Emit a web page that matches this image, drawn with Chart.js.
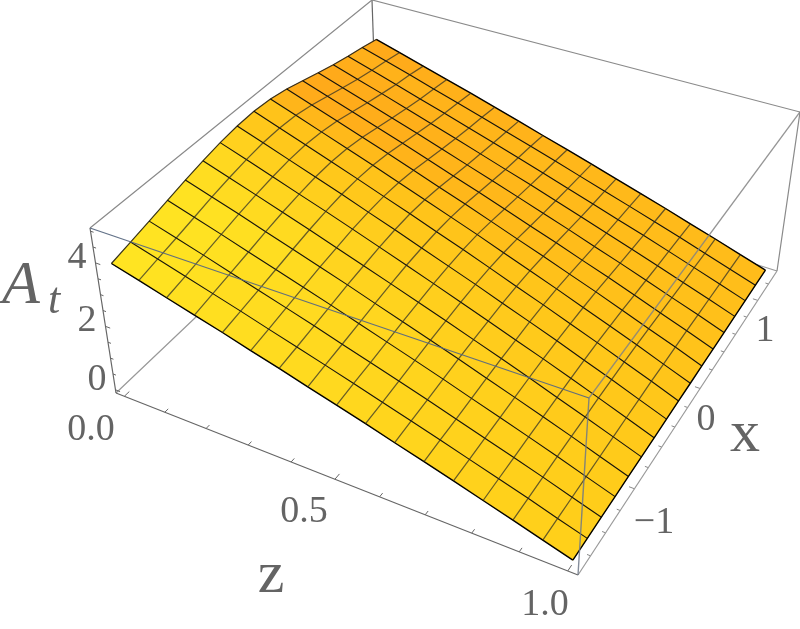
<!DOCTYPE html>
<html>
<head>
<meta charset="utf-8">
<style>html,body{margin:0;padding:0;background:#fff}canvas{display:block}</style>
<script src="https://cdn.jsdelivr.net/npm/chart.js@4"></script>
</head>
<body>
<canvas id="c" width="800" height="629"></canvas>
<script>
const zTicks = [0, 0.1, 0.2, 0.3, 0.4, 0.5, 0.6, 0.7, 0.8, 0.9, 1];
const xTicks = [-1.4, -1.2, -1, -0.8, -0.6, -0.4, -0.2, 0, 0.2, 0.4, 0.6, 0.8, 1, 1.2, 1.4];
const aTicks = [0, 0.5, 1, 1.5, 2, 2.5, 3, 3.5, 4, 4.5, 5];
// A_t: one row per z line, one column per x line
const heights = [
  [3.90, 4.05, 4.20, 4.36, 4.52, 4.66, 4.78, 4.86, 4.89, 4.85, 4.74, 4.58, 4.42, 4.27, 4.14, 4.03, 3.90],
  [3.66, 3.80, 3.94, 4.09, 4.24, 4.37, 4.48, 4.56, 4.58, 4.55, 4.44, 4.29, 4.14, 4.00, 3.88, 3.78, 3.66],
  [3.41, 3.54, 3.68, 3.82, 3.96, 4.08, 4.18, 4.25, 4.28, 4.24, 4.15, 4.01, 3.87, 3.74, 3.62, 3.53, 3.41],
  [3.17, 3.29, 3.41, 3.54, 3.67, 3.79, 3.88, 3.95, 3.97, 3.94, 3.85, 3.72, 3.59, 3.47, 3.36, 3.27, 3.17],
  [2.93, 3.04, 3.15, 3.27, 3.39, 3.50, 3.59, 3.65, 3.67, 3.64, 3.56, 3.44, 3.32, 3.20, 3.11, 3.02, 2.93],
  [2.68, 2.78, 2.89, 3.00, 3.11, 3.20, 3.29, 3.34, 3.36, 3.33, 3.26, 3.15, 3.04, 2.94, 2.85, 2.77, 2.68],
  [2.44, 2.53, 2.63, 2.73, 2.83, 2.91, 2.99, 3.04, 3.06, 3.03, 2.96, 2.86, 2.76, 2.67, 2.59, 2.52, 2.44],
  [2.19, 2.28, 2.36, 2.45, 2.54, 2.62, 2.69, 2.73, 2.75, 2.73, 2.67, 2.58, 2.49, 2.40, 2.33, 2.27, 2.19],
  [1.95, 2.03, 2.10, 2.18, 2.26, 2.33, 2.39, 2.43, 2.45, 2.43, 2.37, 2.29, 2.21, 2.14, 2.07, 2.02, 1.95],
  [1.71, 1.77, 1.84, 1.91, 1.98, 2.04, 2.09, 2.13, 2.14, 2.12, 2.07, 2.00, 1.93, 1.87, 1.81, 1.76, 1.71],
  [1.46, 1.52, 1.58, 1.64, 1.70, 1.75, 1.79, 1.82, 1.83, 1.82, 1.78, 1.72, 1.66, 1.60, 1.55, 1.51, 1.46],
  [1.22, 1.27, 1.31, 1.36, 1.41, 1.46, 1.49, 1.52, 1.53, 1.52, 1.48, 1.43, 1.38, 1.33, 1.29, 1.26, 1.22],
  [0.98, 1.01, 1.05, 1.09, 1.13, 1.17, 1.20, 1.22, 1.22, 1.21, 1.19, 1.15, 1.11, 1.07, 1.04, 1.01, 0.98],
  [0.73, 0.76, 0.79, 0.82, 0.85, 0.87, 0.90, 0.91, 0.92, 0.91, 0.89, 0.86, 0.83, 0.80, 0.78, 0.76, 0.73],
  [0.49, 0.51, 0.53, 0.55, 0.57, 0.58, 0.60, 0.61, 0.61, 0.61, 0.59, 0.57, 0.55, 0.53, 0.52, 0.50, 0.49],
  [0.24, 0.25, 0.26, 0.27, 0.28, 0.29, 0.30, 0.30, 0.31, 0.30, 0.30, 0.29, 0.28, 0.27, 0.26, 0.25, 0.24],
  [0, 0, 0, 0, 0, 0, 0, 0, 0, 0, 0, 0, 0, 0, 0, 0, 0]
];
const N = 16;

// box corners on screen, bottom and top face
const bottom = [[116, 393], [578, 575], [777, 271], [377, 145]];
const top_ = [[90, 228], [589, 398], [800, 112], [372, 0]];

function homography(q) {
  const [[x0, y0], [x1, y1], [x2, y2], [x3, y3]] = q;
  const dx1 = x1 - x2, dx2 = x3 - x2, sx = x0 - x1 + x2 - x3;
  const dy1 = y1 - y2, dy2 = y3 - y2, sy = y0 - y1 + y2 - y3;
  const den = dx1 * dy2 - dx2 * dy1;
  const g = (sx * dy2 - dx2 * sy) / den, h = (dx1 * sy - sx * dy1) / den;
  const a = x1 - x0 + g * x1, b = x3 - x0 + h * x3, d = y1 - y0 + g * y1, e = y3 - y0 + h * y3;
  return (u, v) => {
    const w = g * u + h * v + 1;
    return [(a * u + b * v + x0) / w, (d * u + e * v + y0) / w];
  };
}
const hBottom = homography(bottom), hTop = homography(top_);

function project(a, b, c) {
  const p = hBottom(a, b), q = hTop(a, b);
  return { x: p[0] + (q[0] - p[0]) * c, y: p[1] + (q[1] - p[1]) * c };
}
const zToA = z => 0.02 + 0.96 * z;
const xToB = x => 0.02 + 0.96 * (x + 1.5) / 3;
const hToC = h => (h + 0.1) / 5.2;
const surf = (j, i) => project(zToA(j / N), xToB(-1.5 + 3 * i / N), hToC(heights[j][i]));

// light comes from the left, so slopes facing left are yellower
function quadColor(j, i) {
  const sx = (heights[j][i + 1] + heights[j + 1][i + 1] - heights[j][i] - heights[j + 1][i]) / 2;
  const b = (i + 0.5) / N;
  const s = Math.max(-1, Math.min(1, sx / 0.15));
  const g = 198 - 20 * (b - 0.5) + (s > 0 ? 22 * Math.pow(s, 1.4) : -24 * Math.pow(-s, 1.5));
  return `rgb(255,${Math.round(g)},${Math.round(26 + 8 * Math.max(0, s))})`;
}

function line(points, color, width, order) {
  return { data: points, showLine: true, borderColor: color, borderWidth: width, pointRadius: 0, fill: false, order: order, clip: false };
}

const datasets = [];
const boxGray = '#8a8a8a';
// back edges go under the surface
datasets.push(line([project(0, 0, 1), project(0, 1, 1), project(1, 1, 1), project(1, 1, 0)], boxGray, 1.2, 9));
datasets.push(line([project(0, 0, 0), project(0, 1, 0), project(1, 1, 0)], '#999', 1.2, 9));
datasets.push(line([project(0, 1, 1), project(0, 1, 0)], '#666', 1.2, 9));

// surface cells, back to front
for (let j = 0; j < N; j++) {
  for (let i = 0; i < N; i++) {
    const col = quadColor(j, i);
    const p = [surf(j, i), surf(j, i + 1), surf(j + 1, i + 1), surf(j + 1, i), surf(j, i)];
    datasets.push({ data: p, showLine: true, fill: 'shape', backgroundColor: col, borderColor: col, borderWidth: 0.6, pointRadius: 0, order: 8, clip: false, tension: 0 });
  }
}
// mesh lines
for (let j = 1; j < N; j++) {
  datasets.push(line(heights[j].map((_, i) => surf(j, i)), 'rgba(45,45,35,0.72)', 1.25, 3));
}
for (let i = 1; i < N; i++) {
  datasets.push(line(heights.map((_, j) => surf(j, i)), 'rgba(10,10,10,0.95)', 1.1, 3));
}
datasets.push(line(heights[0].map((_, i) => surf(0, i)), 'rgba(20,20,20,0.85)', 1.2, 3));
datasets.push(line(heights[N].map((_, i) => surf(N, i)), '#000', 1.4, 3));
datasets.push(line(heights.map((_, j) => surf(j, 0)), '#000', 1.4, 3));
datasets.push(line(heights.map((_, j) => surf(j, N)), '#000', 1.4, 3));

// front edges
datasets.push(line([project(0, 0, 1), project(1, 0, 1)], 'rgba(90,105,130,0.95)', 1.3, 1));
datasets.push(line([project(1, 0, 1), project(1, 1, 1)], 'rgba(130,130,130,0.85)', 1.3, 1));
datasets.push(line([project(1, 0, 1), project(1, 0, 0)], 'rgba(110,120,135,0.85)', 1.4, 1));
datasets.push(line([project(0, 0, 1), project(0, 0, 0)], '#666', 1.2, 1));
datasets.push(line([project(0, 0, 0), project(1, 0, 0)], '#666', 1.2, 1));
datasets.push(line([project(1, 0, 0), project(1, 1, 0)], '#999', 1.2, 1));

// ticks
zTicks.forEach((z, k) => {
  const len = k % 5 === 0 ? 0.016 : 0.011;
  datasets.push(line([project(zToA(z), 0, 0), project(zToA(z), len, 0)], '#666', 1, 1));
});
xTicks.forEach((x, k) => {
  const len = (k + 2) % 5 === 0 ? 0.011 : 0.007;
  datasets.push(line([project(1, xToB(x), 0), project(1 - len, xToB(x), 0)], '#888', 1, 1));
});
aTicks.forEach((h, k) => {
  const len = k % 4 === 0 ? 0.011 : 0.007;
  datasets.push(line([project(0, 0, hToC(h)), project(len, 0, hToC(h))], '#666', 1, 1));
});

const gray = 'rgb(100,100,100)';
const tickFont = '38px "Liberation Serif"';
const labels = [
  ['4', 77, 268, tickFont], ['2', 87, 331, tickFont], ['0', 97, 390, tickFont],
  ['0.0', 91, 440, tickFont], ['0.5', 304, 522, tickFont], ['1.0', 545, 615, tickFont],
  ['\u22121', 654, 533, tickFont], ['0', 706, 430, tickFont], ['1', 765, 341, tickFont],
  ['x', 745, 451, '60px "Liberation Serif"'], ['z', 271, 592, '60px "Liberation Serif"'],
  ['A', 21, 303, 'italic 62px "Liberation Serif"'], ['t', 54, 313, 'italic 44px "Liberation Serif"']
];
const labelPlugin = {
  id: 'labels3d',
  afterDraw(chart) {
    const ctx = chart.ctx;
    ctx.save();
    ctx.fillStyle = gray;
    ctx.textAlign = 'center';
    ctx.textBaseline = 'alphabetic';
    labels.forEach(([t, x, y, f]) => {
      ctx.font = f;
      ctx.fillText(t, chart.scales.x.getPixelForValue(x), chart.scales.y.getPixelForValue(y));
    });
    ctx.restore();
  }
};

new Chart(document.getElementById('c'), {
  type: 'scatter',
  data: { datasets },
  options: {
    responsive: false,
    animation: false,
    layout: { padding: 0 },
    plugins: { legend: { display: false }, tooltip: { enabled: false } },
    scales: {
      x: { type: 'linear', display: false, min: 0, max: 800 },
      y: { type: 'linear', display: false, min: 0, max: 629, reverse: true }
    }
  },
  plugins: [labelPlugin]
});
</script>
</body>
</html>
